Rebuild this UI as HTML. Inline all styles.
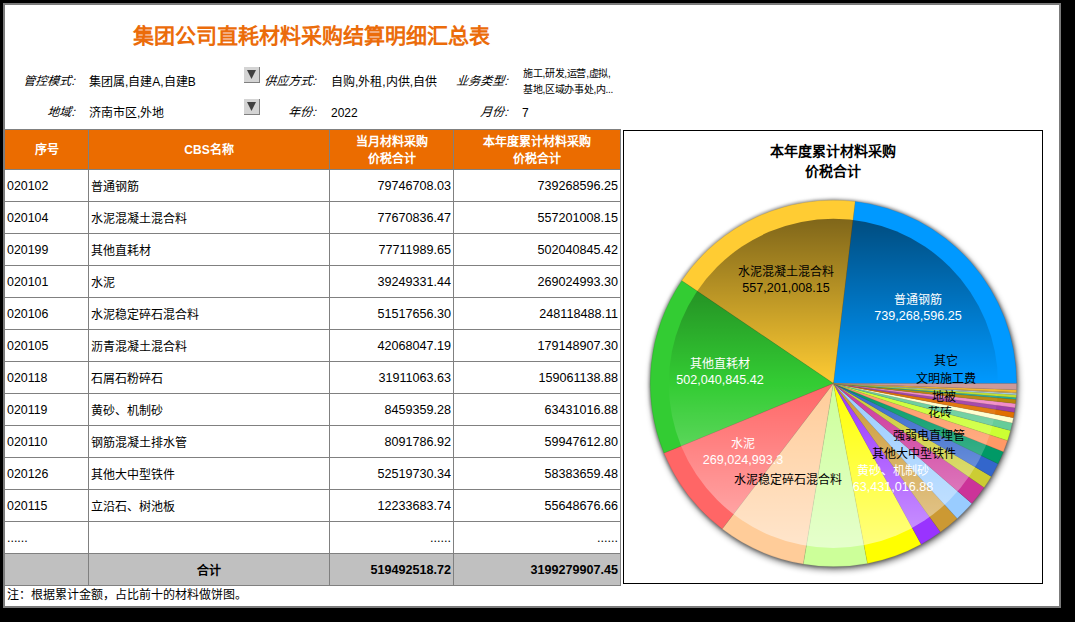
<!DOCTYPE html>
<html lang="zh-CN">
<head>
<meta charset="utf-8">
<title>集团公司直耗材料采购结算明细汇总表</title>
<style>
html,body{margin:0;padding:0}
body{width:1075px;height:622px;background:#000;position:relative;overflow:hidden;font-family:"Liberation Sans",sans-serif;font-size:12px;color:#000}
.page{position:absolute;left:3px;top:3px;width:1054px;height:601px;border:2px solid #7b7b7b;background:#fff}
.in{position:absolute;left:-5px;top:-5px;width:1075px;height:622px}
.abs{position:absolute;white-space:nowrap}
h1{position:absolute;margin:0;left:133px;top:22px;font-size:21px;line-height:28px;font-weight:bold;color:#eb6c0a;white-space:nowrap}
.lb{position:absolute;text-align:right;line-height:16px;white-space:nowrap;transform:skewX(-19deg);transform-origin:100% 60%}
.lb i{display:inline-block;width:4.5px;text-align:center;font-style:normal}
.vl{position:absolute;line-height:16px;white-space:nowrap}
.sm{position:absolute;font-size:10px;letter-spacing:-0.3px;line-height:16px;white-space:nowrap}
.dd{position:absolute;width:15px;height:15px;background:#d4d4d4;border-right:1px solid #808080;border-bottom:1px solid #808080}
.dd svg{position:absolute;left:3px;top:3px}
table{position:absolute;left:5px;top:129px;width:616px;border-collapse:separate;border-spacing:0;table-layout:fixed;border-top:1px solid #808080}
td,th{box-sizing:border-box;border-right:1px solid #808080;border-bottom:1px solid #808080;padding:0;height:32px;overflow:hidden;white-space:nowrap;font-size:12px;font-weight:normal}
th{height:40px;background:#eb6c00;color:#fff;font-weight:bold;text-align:center;line-height:17px;padding-top:2px}
td.c1{text-align:left;padding-left:2px;font-size:12.4px}
td.c2{text-align:left;padding-left:2px}
td.n{text-align:right;padding-right:2px;font-size:12.6px}
tr.tot td{background:#c0c0c0;font-weight:bold}
tr.tot td.c2{text-align:center;padding-left:0}
.note{position:absolute;left:7px;top:587px;line-height:16px;white-space:nowrap}
.chart{position:absolute;left:623px;top:130px;width:420px;height:454px;border:1px solid #000;box-sizing:border-box;background:#fff}
.ct{position:absolute;left:0;width:419px;text-align:center;font-weight:bold;font-size:14px;line-height:20px;white-space:nowrap}
svg.pie{position:absolute;left:0;top:0}
.pl{position:absolute;text-align:center;font-size:12px;line-height:16px;white-space:nowrap;transform:translateX(-50%)}
.pl.w{color:#fff}
.pl .num{font-size:12.6px}
</style>
</head>
<body>
<div class="page"><div class="in">
<h1>集团公司直耗材料采购结算明细汇总表</h1>

<div class="lb" style="left:5px;width:71px;top:73px">管控模式<i>:</i></div>
<div class="vl" style="left:89px;top:74px">集团属,自建A,自建B</div>
<div class="dd" style="left:244px;top:67px"><svg width="9" height="9" viewBox="0 0 9 9"><path d="M0 0H9L4.5 9Z" fill="#404040"/></svg></div>
<div class="lb" style="left:255px;width:62px;top:73px">供应方式<i>:</i></div>
<div class="vl" style="left:331px;top:74px">自购,外租,内供,自供</div>
<div class="lb" style="left:440px;width:69px;top:73px">业务类型<i>:</i></div>
<div class="sm" style="left:523px;top:66px">施工,研发,运营,虚拟,</div>
<div class="sm" style="left:523px;top:82px">基地,区域办事处,内...</div>

<div class="lb" style="left:5px;width:71px;top:104px">地域<i>:</i></div>
<div class="vl" style="left:89px;top:105px">济南市区,外地</div>
<div class="dd" style="left:244px;top:99px"><svg width="9" height="9" viewBox="0 0 9 9"><path d="M0 0H9L4.5 9Z" fill="#404040"/></svg></div>
<div class="lb" style="left:255px;width:62px;top:104px">年份<i>:</i></div>
<div class="vl" style="left:331px;top:105px">2022</div>
<div class="lb" style="left:440px;width:69px;top:104px">月份<i>:</i></div>
<div class="vl" style="left:522px;top:105px">7</div>

<table>
<colgroup><col style="width:84px"><col style="width:241px"><col style="width:124px"><col style="width:167px"></colgroup>
<thead><tr><th>序号</th><th>CBS名称</th><th>当月材料采购<br>价税合计</th><th>本年度累计材料采购<br>价税合计</th></tr></thead>
<tbody>
<tr><td class="c1">020102</td><td class="c2">普通钢筋</td><td class="n">79746708.03</td><td class="n">739268596.25</td></tr>
<tr><td class="c1">020104</td><td class="c2">水泥混凝土混合料</td><td class="n">77670836.47</td><td class="n">557201008.15</td></tr>
<tr><td class="c1">020199</td><td class="c2">其他直耗材</td><td class="n">77711989.65</td><td class="n">502040845.42</td></tr>
<tr><td class="c1">020101</td><td class="c2">水泥</td><td class="n">39249331.44</td><td class="n">269024993.30</td></tr>
<tr><td class="c1">020106</td><td class="c2">水泥稳定碎石混合料</td><td class="n">51517656.30</td><td class="n">248118488.11</td></tr>
<tr><td class="c1">020105</td><td class="c2">沥青混凝土混合料</td><td class="n">42068047.19</td><td class="n">179148907.30</td></tr>
<tr><td class="c1">020118</td><td class="c2">石屑石粉碎石</td><td class="n">31911063.63</td><td class="n">159061138.88</td></tr>
<tr><td class="c1">020119</td><td class="c2">黄砂、机制砂</td><td class="n">8459359.28</td><td class="n">63431016.88</td></tr>
<tr><td class="c1">020110</td><td class="c2">钢筋混凝土排水管</td><td class="n">8091786.92</td><td class="n">59947612.80</td></tr>
<tr><td class="c1">020126</td><td class="c2">其他大中型铁件</td><td class="n">52519730.34</td><td class="n">58383659.48</td></tr>
<tr><td class="c1">020115</td><td class="c2">立沿石、树池板</td><td class="n">12233683.74</td><td class="n">55648676.66</td></tr>
<tr><td class="c1">......</td><td class="c2"></td><td class="n d">......</td><td class="n d">......</td></tr>
<tr class="tot"><td class="c1"></td><td class="c2">合计</td><td class="n">519492518.72</td><td class="n">3199279907.45</td></tr>
</tbody>
</table>
<div class="note">注：根据累计金额，占比前十的材料做饼图。</div>

<div class="chart">
<div class="ct" style="top:10px;left:-1px">本年度累计材料采购<br>价税合计</div>
</div>
<svg class="pie" width="1075" height="622" viewBox="0 0 1075 622">
<defs>
<linearGradient id="ov" x1="0" y1="0" x2="0" y2="1">
<stop offset="0" stop-color="#000" stop-opacity="0.5"/>
<stop offset="0.5" stop-color="#000" stop-opacity="0"/>
<stop offset="0.5" stop-color="#fff" stop-opacity="0"/>
<stop offset="1" stop-color="#fff" stop-opacity="0.5"/>
</linearGradient>
<filter id="sh" x="-10%" y="-10%" width="120%" height="120%"><feGaussianBlur stdDeviation="3.3"/></filter>
<filter id="sh2" x="-10%" y="-10%" width="120%" height="120%"><feGaussianBlur stdDeviation="1.8"/></filter>
</defs>
<circle cx="833.4" cy="383.4" r="184.4" fill="#000" opacity="0.32" filter="url(#sh2)"/>
<circle cx="834.6" cy="386" r="184" fill="#000" opacity="0.5" filter="url(#sh)"/>
<g stroke-width="0.5" stroke-opacity="0.4" stroke-linejoin="round">
<path d="M833.4 383.4L1016.60 383.40A183.2 183.2 0 0 0 855.13 201.49Z" fill="#0099ff" stroke="#006bb2"/>
<path d="M833.4 383.4L855.13 201.49A183.2 183.2 0 0 0 681.73 280.65Z" fill="#ffcc33" stroke="#b28e23"/>
<path d="M833.4 383.4L681.73 280.65A183.2 183.2 0 0 0 664.00 453.15Z" fill="#33cc33" stroke="#238e23"/>
<path d="M833.4 383.4L664.00 453.15A183.2 183.2 0 0 0 722.26 529.03Z" fill="#ff6666" stroke="#b24747"/>
<path d="M833.4 383.4L722.26 529.03A183.2 183.2 0 0 0 803.38 564.12Z" fill="#ffcc99" stroke="#b28e6b"/>
<path d="M833.4 383.4L803.38 564.12A183.2 183.2 0 0 0 867.50 563.40Z" fill="#ccff99" stroke="#8eb26b"/>
<path d="M833.4 383.4L867.50 563.40A183.2 183.2 0 0 0 921.17 544.21Z" fill="#ffff00" stroke="#b2b200"/>
<path d="M833.4 383.4L921.17 544.21A183.2 183.2 0 0 0 940.47 532.05Z" fill="#9933ff" stroke="#6b23b2"/>
<path d="M833.4 383.4L940.47 532.05A183.2 183.2 0 0 0 957.19 518.45Z" fill="#cc9933" stroke="#8e6b23"/>
<path d="M833.4 383.4L957.19 518.45A183.2 183.2 0 0 0 971.83 503.40Z" fill="#99ccff" stroke="#6b8eb2"/>
<path d="M833.4 383.4L971.83 503.40A183.2 183.2 0 0 0 984.09 487.58Z" fill="#cc3399" stroke="#8e236b"/>
<path d="M833.4 383.4L984.09 487.58A183.2 183.2 0 0 0 991.25 476.38Z" fill="#cccc33" stroke="#8e8e23"/>
<path d="M833.4 383.4L991.25 476.38A183.2 183.2 0 0 0 998.06 463.71Z" fill="#3366cc" stroke="#23478e"/>
<path d="M833.4 383.4L998.06 463.71A183.2 183.2 0 0 0 1003.38 451.73Z" fill="#009966" stroke="#006b47"/>
<path d="M833.4 383.4L1003.38 451.73A183.2 183.2 0 0 0 1007.43 440.62Z" fill="#ff9966" stroke="#b26b47"/>
<path d="M833.4 383.4L1007.43 440.62A183.2 183.2 0 0 0 1010.44 430.51Z" fill="#ccff33" stroke="#8eb223"/>
<path d="M833.4 383.4L1010.44 430.51A183.2 183.2 0 0 0 1012.26 423.05Z" fill="#66cc99" stroke="#478e6b"/>
<path d="M833.4 383.4L1012.26 423.05A183.2 183.2 0 0 0 1013.36 417.73Z" fill="#ffffcc" stroke="#b2b28e"/>
<path d="M833.4 383.4L1013.36 417.73A183.2 183.2 0 0 0 1014.29 412.37Z" fill="#e07000" stroke="#9c4e00"/>
<path d="M833.4 383.4L1014.29 412.37A183.2 183.2 0 0 0 1014.99 407.63Z" fill="#a040a8" stroke="#702c75"/>
<path d="M833.4 383.4L1014.99 407.63A183.2 183.2 0 0 0 1015.49 403.50Z" fill="#f28cc8" stroke="#a9628c"/>
<path d="M833.4 383.4L1015.49 403.50A183.2 183.2 0 0 0 1015.90 399.37Z" fill="#b8860b" stroke="#805d07"/>
<path d="M833.4 383.4L1015.90 399.37A183.2 183.2 0 0 0 1016.06 397.45Z" fill="#20b0a0" stroke="#167b70"/>
<path d="M833.4 383.4L1016.06 397.45A183.2 183.2 0 0 0 1016.25 394.74Z" fill="#c0e030" stroke="#869c21"/>
<path d="M833.4 383.4L1016.25 394.74A183.2 183.2 0 0 0 1016.33 393.31Z" fill="#a8d8f0" stroke="#7597a8"/>
<path d="M833.4 383.4L1016.33 393.31A183.2 183.2 0 0 0 1016.38 392.35Z" fill="#d8b070" stroke="#977b4e"/>
<path d="M833.4 383.4L1016.38 392.35A183.2 183.2 0 0 0 1016.49 389.67Z" fill="#f5b830" stroke="#ab8021"/>
<path d="M833.4 383.4L1016.49 389.67A183.2 183.2 0 0 0 1016.60 383.40Z" fill="#cc9999" stroke="#8e6b6b"/>
</g>
<circle cx="833.4" cy="383.4" r="164.6" fill="url(#ov)"/>
</svg>

<div class="pl w" style="left:918px;top:292px">普通钢筋<br><span class="num">739,268,596.25</span></div>
<div class="pl" style="left:786px;top:264px">水泥混凝土混合料<br><span class="num">557,201,008.15</span></div>
<div class="pl w" style="left:720px;top:356px">其他直耗材<br><span class="num">502,040,845.42</span></div>
<div class="pl w" style="left:743px;top:436px">水泥<br><span class="num">269,024,993.3</span></div>
<div class="pl" style="left:788px;top:472px">水泥稳定碎石混合料</div>
<div class="pl w" style="left:893px;top:463px">黄砂、机制砂<br><span class="num">63,431,016.88</span></div>
<div class="pl" style="left:914px;top:446px">其他大中型铁件</div>
<div class="pl" style="left:929px;top:428px">强弱电直埋管</div>
<div class="pl" style="left:940px;top:405px">花砖</div>
<div class="pl" style="left:944px;top:389px">地被</div>
<div class="pl" style="left:946px;top:371px">文明施工费</div>
<div class="pl" style="left:946px;top:353px">其它</div>
</div></div>
</body>
</html>
